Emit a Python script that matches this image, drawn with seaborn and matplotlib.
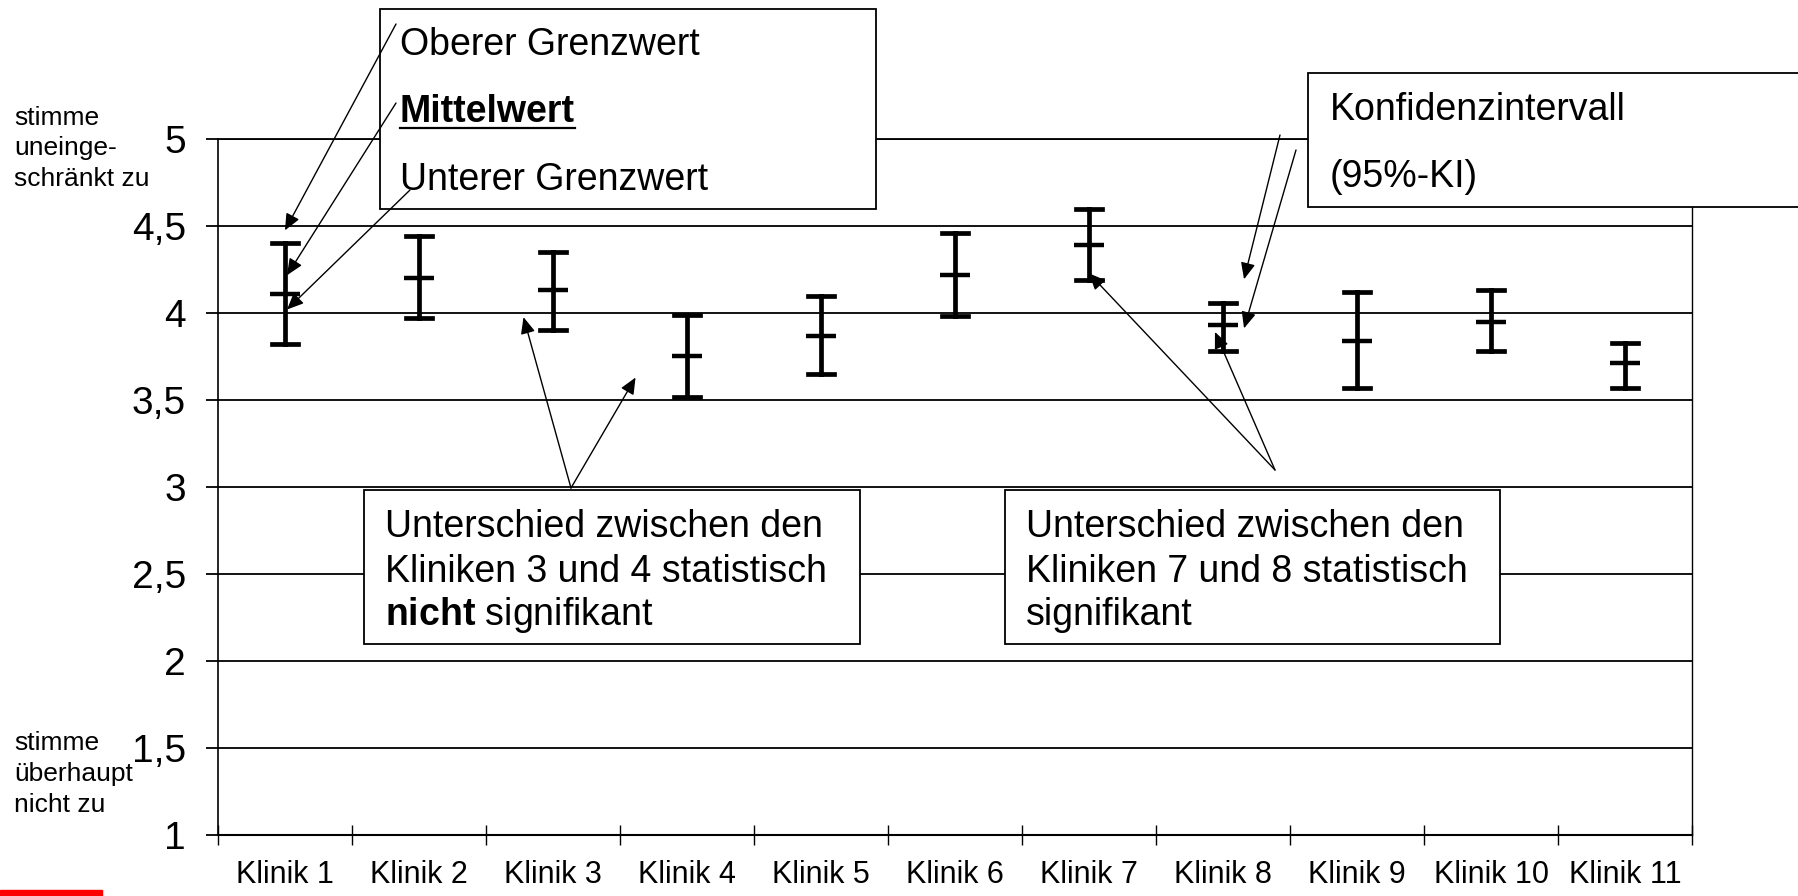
import numpy as np
import pandas as pd
import matplotlib.pyplot as plt
import seaborn as sns
from matplotlib.patches import Rectangle
from matplotlib.lines import Line2D

# values (95% confidence interval per clinic)
kliniken = [f"Klinik {i}" for i in range(1, 12)]
oberer = [4.40, 4.44, 4.35, 3.99, 4.10, 4.46, 4.60, 4.06, 4.12, 4.13, 3.83]
mittelwert = [4.11, 4.20, 4.13, 3.75, 3.87, 4.22, 4.39, 3.93, 3.84, 3.95, 3.71]
unterer = [3.82, 3.97, 3.90, 3.52, 3.65, 3.98, 4.19, 3.78, 3.57, 3.78, 3.57]
y_ticks = [1, 1.5, 2, 2.5, 3, 3.5, 4, 4.5, 5]
y_labels = ["1", "1,5", "2", "2,5", "3", "3,5", "4", "4,5", "5"]

W, H = 1798, 896

plt.rcParams['font.family'] = ['Liberation Sans', 'DejaVu Sans']
plt.rcParams['mathtext.fontset'] = 'custom'
plt.rcParams['mathtext.rm'] = 'Liberation Sans'
plt.rcParams['mathtext.bf'] = 'Liberation Sans:bold'

# long table: median of (lower, mean, upper) = mean, min..max = interval
df = pd.DataFrame({
    'Klinik': kliniken * 3,
    'Wert': unterer + mittelwert + oberer,
})

fig = plt.figure(figsize=(W / 100, H / 100), dpi=100)
ax = fig.add_axes([218 / W, 1 - 835 / H, (1692 - 218) / W, (835 - 139) / H])

sns.pointplot(
    data=df, x='Klinik', y='Wert', order=kliniken,
    estimator='median', errorbar=('pi', 100),
    capsize=0.19, color='black', markers='_', linestyle='none',
    markersize=21, markeredgewidth=3.2,
    err_kws={'linewidth': 3.4},
    ax=ax,
)

ax.set_xlim(-0.5, 10.5)
ax.set_ylim(1, 5)
ax.set_xlabel('')
ax.set_ylabel('')
ax.set_yticks(y_ticks, y_labels)
ax.set_xticks(range(len(kliniken)), kliniken)
ax.set_xticks(np.arange(-0.5, 11), minor=True)
ax.tick_params(axis='x', which='major', length=0, pad=18, labelsize=22)
ax.tick_params(axis='x', which='minor', length=15, width=1, direction='inout')
ax.tick_params(axis='y', length=9, width=1.3, pad=14, labelsize=28)
ax.grid(axis='y', color='black', lw=1.3)
ax.grid(axis='x', visible=False)
ax.set_axisbelow(True)
ax.spines['top'].set_linewidth(1.3)
ax.spines['bottom'].set_linewidth(1.5)
ax.spines['left'].set_linewidth(1.2)
ax.spines['right'].set_linewidth(1.0)


def box(x0, y0, x1, y1):
    r = Rectangle((x0 / W, 1 - y1 / H), (x1 - x0) / W, (y1 - y0) / H,
                  transform=fig.transFigure, facecolor='white', edgecolor='black',
                  lw=1.3, clip_on=False, zorder=5)
    ax.add_artist(r)


def label(x, y, s, size=27, **kw):
    return ax.text(x / W, 1 - y / H, s, transform=fig.transFigure, zorder=6,
                   va='baseline', fontsize=size, clip_on=False, **kw)


def arrow(xy, start):
    ax.annotate('', xy=xy, xytext=(start[0], H - start[1]), textcoords='figure pixels',
                arrowprops=dict(arrowstyle='-|>,head_length=0.5,head_width=0.22',
                                mutation_scale=20, lw=1, color='black',
                                shrinkA=0, shrinkB=0),
                zorder=7, annotation_clip=False)


# legend-like box top left
box(380, 9, 876, 209)
label(400, 55, 'Oberer Grenzwert')
mw = label(400, 122, 'Mittelwert', fontweight='bold')
label(400, 190, 'Unterer Grenzwert')
arrow((0.0, 4.475), (396, 24))
arrow((0.015, 4.217), (396, 103))
arrow((0.015, 4.02), (410, 190))

# confidence interval box
box(1308, 73, 1810, 207)
label(1330, 120, 'Konfidenzintervall')
label(1330, 187, '(95%-KI)')
arrow((7.157, 4.194), (1280, 135))
arrow((7.157, 3.912), (1296, 150))

# comparison boxes
box(364, 490, 860, 644)
label(385, 537, 'Unterschied zwischen den')
label(385, 582, 'Kliniken 3 und 4 statistisch')
label(385, 625, r'$\mathbf{nicht}$ signifikant')
arrow((1.78, 3.976), (571, 488))
arrow((2.616, 3.629), (571, 488))

box(1005, 490, 1500, 644)
label(1026, 537, 'Unterschied zwischen den')
label(1026, 582, 'Kliniken 7 und 8 statistisch')
label(1026, 625, 'signifikant')
arrow((6.0, 4.228), (1275, 470))
arrow((6.94, 3.891), (1275, 470))

# scale end labels
for y, s in zip([125, 155, 186], ['stimme', 'uneinge-', 'schränkt zu']):
    label(14, y, s, size=19)
for y, s in zip([750, 781, 812], ['stimme', 'überhaupt', 'nicht zu']):
    label(14, y, s, size=19)

# red mark bottom left
ax.add_artist(Rectangle((0, 0), 102 / W, 6 / H, transform=fig.transFigure,
                        color='#ff0000', clip_on=False, zorder=5))

# underline for Mittelwert
fig.canvas.draw()
bb = mw.get_window_extent()
ax.add_line(Line2D([bb.x0 / W, bb.x1 / W], [1 - 128 / H] * 2, transform=fig.transFigure,
                   color='black', lw=1.6, clip_on=False, zorder=6))

fig.savefig('out.png', dpi=100)
